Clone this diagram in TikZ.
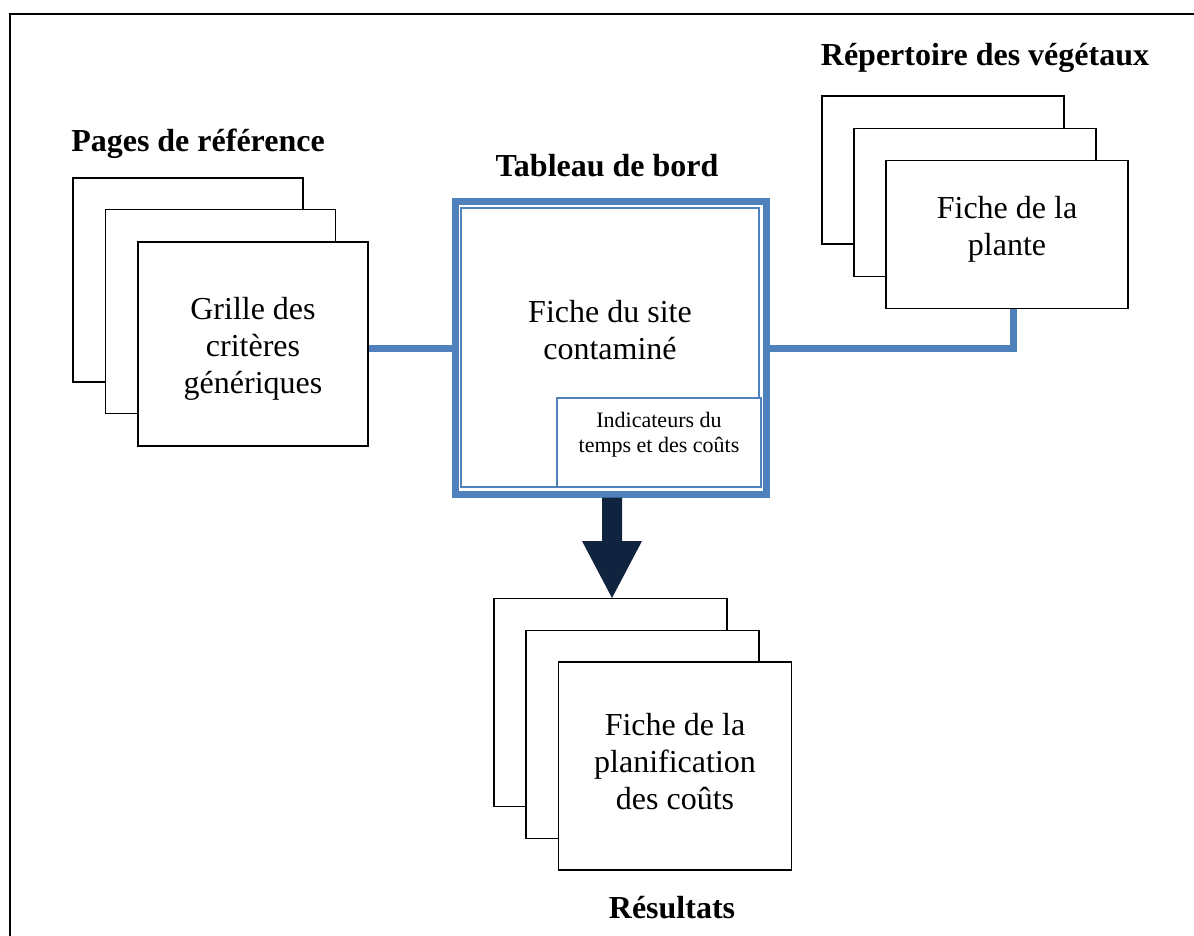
\documentclass[tikz,border=0pt]{standalone}
\usepackage{fontspec}
\setmainfont{Liberation Serif}
\definecolor{ofblue}{HTML}{4F81BD}
\definecolor{navy}{HTML}{11243F}
\begin{document}
\begin{tikzpicture}[x=0.5pt,y=-0.5pt,
  card/.style={draw=black, line width=0.9pt, fill=white, inner sep=0pt},
  lcard/.style={card, minimum width=115pt, minimum height=102pt},
  rcard/.style={card, minimum width=121pt, minimum height=74pt},
  ocard/.style={card, minimum width=116.5pt, minimum height=104pt},
  title/.style={font=\bfseries\fontsize{16}{18.5}\selectfont},
  conn/.style={draw=ofblue, line width=3.5pt},
  maintext/.style={align=center, inner sep=0pt, font=\fontsize{16}{18.5}\selectfont}
]
\useasboundingbox (0,0) rectangle (1194,936);
% frame
\coordinate (fbl) at (10,936);
\coordinate (ftl) at (10,14);
\coordinate (ftr) at (1194,14);
\draw[line width=1pt] (fbl) -- (ftl) -- (ftr);

% left stack
\node[lcard] (lback) at (188,280) {};
\node[lcard] (lmid) at (220.5,311.5) {};
\node[lcard] (lfront) at (253,344) {};
\node[maintext] (lfronttxt) at (253,349) {Grille des\\critères\\génériques};
\node[title] (ltitle) at (198,144) {Pages de référence};

% right stack
\node[rcard] (rback) at (943,170) {};
\node[rcard] (rmid) at (975,202.5) {};
\node[rcard] (rfront) at (1007,234.5) {};
\node[maintext] (rfronttxt) at (1007,229) {Fiche de la\\plante};
\node[title] (rtitle) at (985,58) {Répertoire des végétaux};

% results stack
\node[ocard] (oback) at (610.5,702.5) {};
\node[ocard] (omid) at (642.5,734.5) {};
\node[ocard] (ofront) at (675,766) {};
\node[maintext] (ofronttxt) at (675,762) {Fiche de la\\planification\\des coûts};
\node[title] (otitle) at (672,908) {Résultats};

% central box
\node[draw=ofblue, line width=3.5pt, minimum width=155.5pt, minimum height=146pt, inner sep=0pt] (tab) at (610.5,348) {};
\node[draw=ofblue, line width=0.8pt, minimum width=149pt, minimum height=139.5pt, inner sep=0pt] (tabin) at (610,347.5) {};
\node[maintext] (tabtxt) at (610,330) {Fiche du site\\contaminé};
\node[draw=ofblue, line width=0.8pt, fill=white, minimum width=102pt, minimum height=44.5pt, inner sep=0pt] (ind) at (659,442.5) {};
\node[align=center, inner sep=0pt, font=\fontsize{11}{12.5}\selectfont] (indtxt) at (659,435) {Indicateurs du\\temps et des coûts};
\node[title] (ttitle) at (607,166) {Tableau de bord};

% connectors
\draw[conn] (tab.west) -- (tab.west -| lfront.east);
\draw[conn] (tab.east) -| ([xshift=3pt]rfront.south);

% arrow
\coordinate (atip) at (612,598);
\fill[navy] (atip) -- ++(30,-57) -- ++(-20,0) -- ++(0,-43.5) -- ++(-20,0) -- ++(0,43.5) -- ++(-20,0) -- cycle;
\end{tikzpicture}
\end{document}
